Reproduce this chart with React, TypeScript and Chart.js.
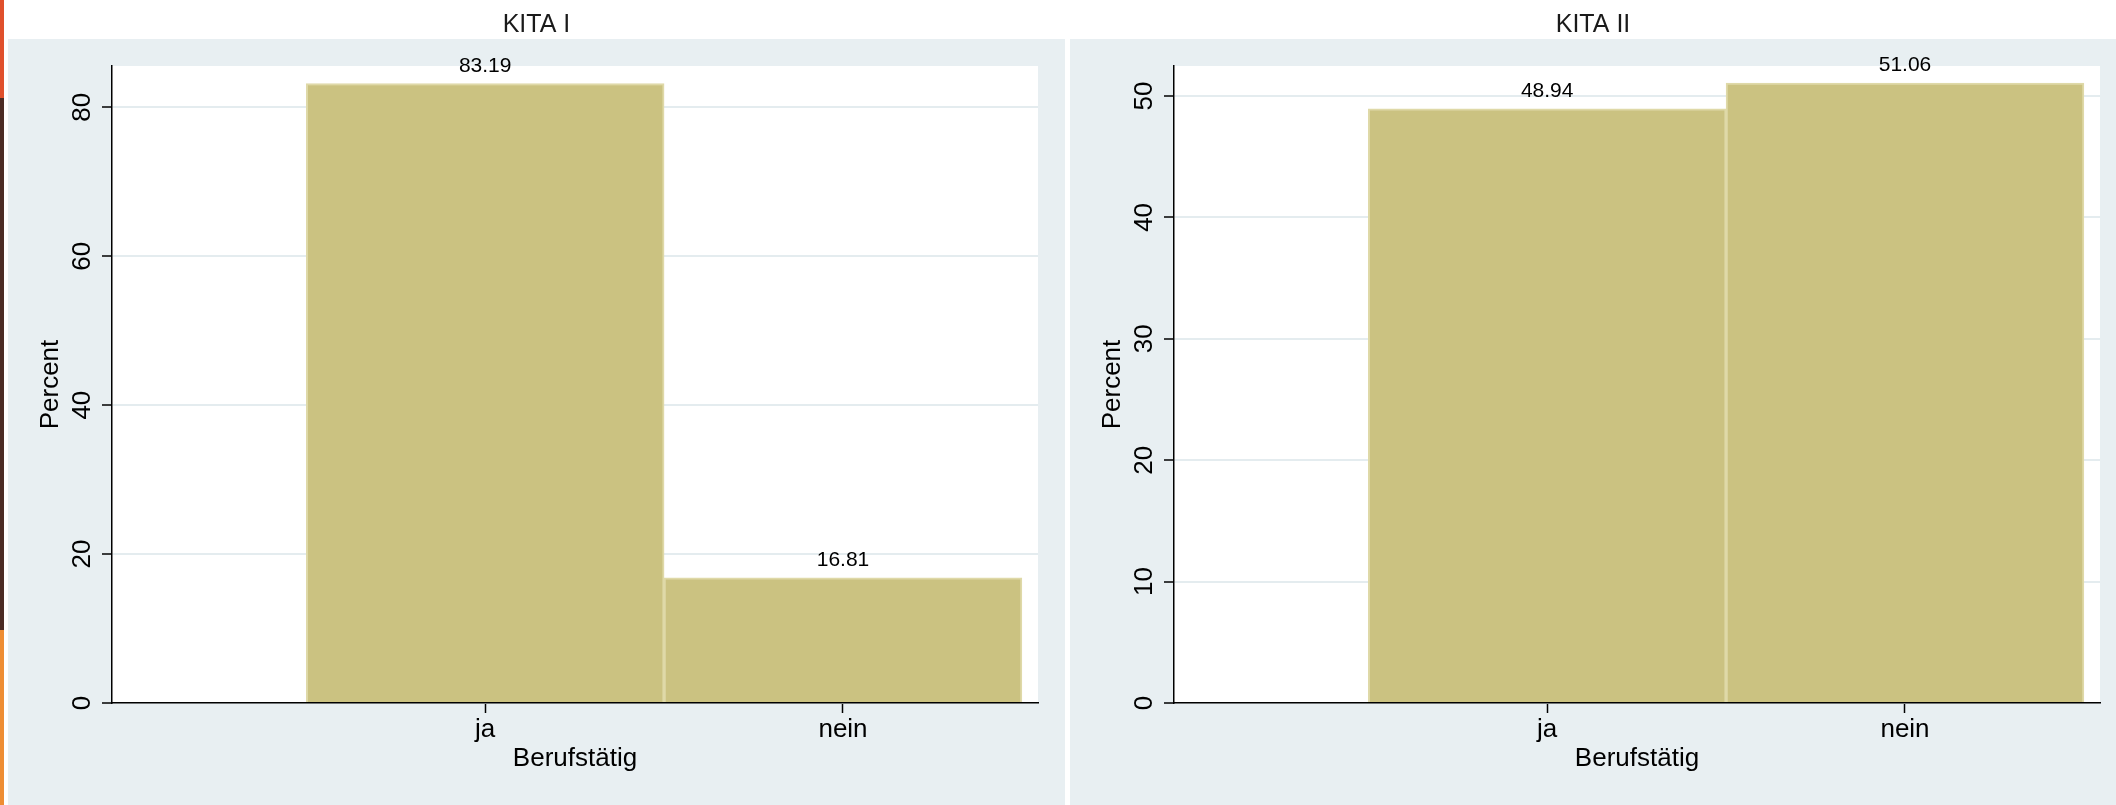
import React, { useEffect, useRef } from 'react';
import { Chart, registerables } from 'chart.js';

Chart.register(...registerables);

// ---- data ----
const categories = ['ja', 'nein'];
const categoryPositions = [1, 2];
const kita1Values = [83.19, 16.81];
const kita2Values = [48.94, 51.06];
const panelTitles = ['KITA I', 'KITA II'];
const yTickSteps = [20, 10];
const yMaxima = [85.54, 52.47];
const xAxisTitle = 'Berufstätig';
const yAxisTitle = 'Percent';

const FONT = '"Liberation Sans", Arial, Helvetica, sans-serif';
const BAR_FILL = 'rgb(203,194,129)';
const BAR_EDGE = 'rgb(223,217,168)';
const PANEL_BG = '#e8eff2';
const GRID = '#e4ecef';

function buildConfig(title: string, values: number[], yMax: number, step: number, padRight: number): any {
  const panelPlugin = {
    id: 'panelBg',
    beforeDraw(chart: any) {
      const { ctx, width, height, chartArea } = chart;
      ctx.save();
      ctx.fillStyle = '#ffffff';
      ctx.fillRect(0, 0, width, height);
      ctx.fillStyle = PANEL_BG;
      ctx.fillRect(0, 39, width, height - 39);
      ctx.fillStyle = '#ffffff';
      ctx.fillRect(chartArea.left, chartArea.top, chartArea.right - chartArea.left, chartArea.bottom - chartArea.top);
      ctx.restore();
    },
  };
  const textPlugin = {
    id: 'textLabels',
    afterDraw(chart: any) {
      const { ctx, width } = chart;
      const yScale = chart.scales.y;
      ctx.save();
      ctx.fillStyle = '#1a1a1a';
      ctx.textAlign = 'center';
      ctx.textBaseline = 'alphabetic';
      // panel title
      ctx.font = `25px ${FONT}`;
      ctx.fillText(title, width / 2, 32);
      // rotated y tick labels
      ctx.fillStyle = '#000';
      ctx.font = `26px ${FONT}`;
      yScale.ticks.forEach((t: any) => {
        const py = yScale.getPixelForValue(t.value);
        ctx.save();
        ctx.translate(yScale.right - 22, py);
        ctx.rotate(-Math.PI / 2);
        ctx.fillText(String(t.label ?? t.value), 0, 0);
        ctx.restore();
      });
      // value labels above bars
      ctx.font = `21px ${FONT}`;
      const meta = chart.getDatasetMeta(0);
      meta.data.forEach((bar: any, i: number) => {
        ctx.fillText(values[i].toFixed(2), bar.x, bar.y - 12);
      });
      ctx.restore();
    },
  };

  return {
    type: 'bar',
    data: {
      datasets: [
        {
          data: categoryPositions.map((x, i) => ({ x, y: values[i] })),
          backgroundColor: BAR_FILL,
          borderColor: BAR_EDGE,
          borderWidth: 2,
          barPercentage: 1,
          categoryPercentage: 1,
        },
      ],
    },
    options: {
      animation: false,
      responsive: false,
      devicePixelRatio: 1,
      layout: { padding: { left: 0, right: padRight, top: 66, bottom: 0 } },
      plugins: {
        legend: { display: false },
        tooltip: { enabled: false },
        title: { display: false },
      },
      scales: {
        x: {
          type: 'linear',
          offset: false,
          min: -0.043,
          max: 2.545,
          afterBuildTicks: (s: any) => {
            s.ticks = categoryPositions.map((v) => ({ value: v }));
          },
          afterFit: (s: any) => {
            s.height = 102;
          },
          ticks: {
            autoSkip: false,
            maxRotation: 0,
            minRotation: 0,
            padding: 4,
            color: '#000',
            font: { family: FONT, size: 26, lineHeight: 1 },
            callback: (v: any) => {
              const idx = categoryPositions.indexOf(Number(v));
              return idx >= 0 ? categories[idx] : '';
            },
          },
          grid: {
            offset: false,
            drawOnChartArea: false,
            drawTicks: true,
            tickLength: 10,
            tickColor: '#000',
            tickWidth: 1.5,
          },
          border: { display: true, color: '#000', width: 1.5 },
          title: {
            display: true,
            text: xAxisTitle,
            color: '#000',
            font: { family: FONT, size: 26, lineHeight: 1 },
            padding: { top: 0, bottom: 33 },
          },
        },
        y: {
          type: 'linear',
          min: 0,
          max: yMax,
          afterFit: (s: any) => {
            s.width = 104;
          },
          ticks: { stepSize: step, includeBounds: false, display: false },
          grid: {
            color: GRID,
            lineWidth: 2,
            drawTicks: true,
            tickLength: 10,
            tickColor: '#000',
            tickWidth: 1.5,
          },
          border: { display: true, color: '#000', width: 1.5 },
          title: {
            display: true,
            text: yAxisTitle,
            color: '#000',
            font: { family: FONT, size: 26, lineHeight: 1 },
            padding: { top: 30, bottom: 0 },
          },
        },
      },
    },
    plugins: [panelPlugin, textPlugin],
  };
}

function Panel(props: { left: number; width: number; title: string; values: number[]; yMax: number; step: number; padRight: number }) {
  const ref = useRef<HTMLCanvasElement | null>(null);
  useEffect(() => {
    if (!ref.current) return;
    const chart = new Chart(ref.current, buildConfig(props.title, props.values, props.yMax, props.step, props.padRight));
    return () => chart.destroy();
  }, []);
  return (
    <canvas
      ref={ref}
      width={props.width}
      height={805}
      style={{ position: 'absolute', left: props.left, top: 0, width: props.width, height: 805, display: 'block' }}
    />
  );
}

export default function App() {
  return (
    <div style={{ position: 'absolute', left: 0, top: 0, width: 2116, height: 805, background: '#fff', overflow: 'hidden' }}>
      <div style={{ position: 'absolute', left: 0, top: 0, width: 4, height: 98, background: '#e0502c' }} />
      <div style={{ position: 'absolute', left: 0, top: 98, width: 4, height: 532, background: '#4b2b24' }} />
      <div style={{ position: 'absolute', left: 0, top: 630, width: 4, height: 175, background: '#ee8d33' }} />
      <Panel left={8} width={1057} title={panelTitles[0]} values={kita1Values} yMax={yMaxima[0]} step={yTickSteps[0]} padRight={27} />
      <Panel left={1070} width={1046} title={panelTitles[1]} values={kita2Values} yMax={yMaxima[1]} step={yTickSteps[1]} padRight={16} />
    </div>
  );
}
